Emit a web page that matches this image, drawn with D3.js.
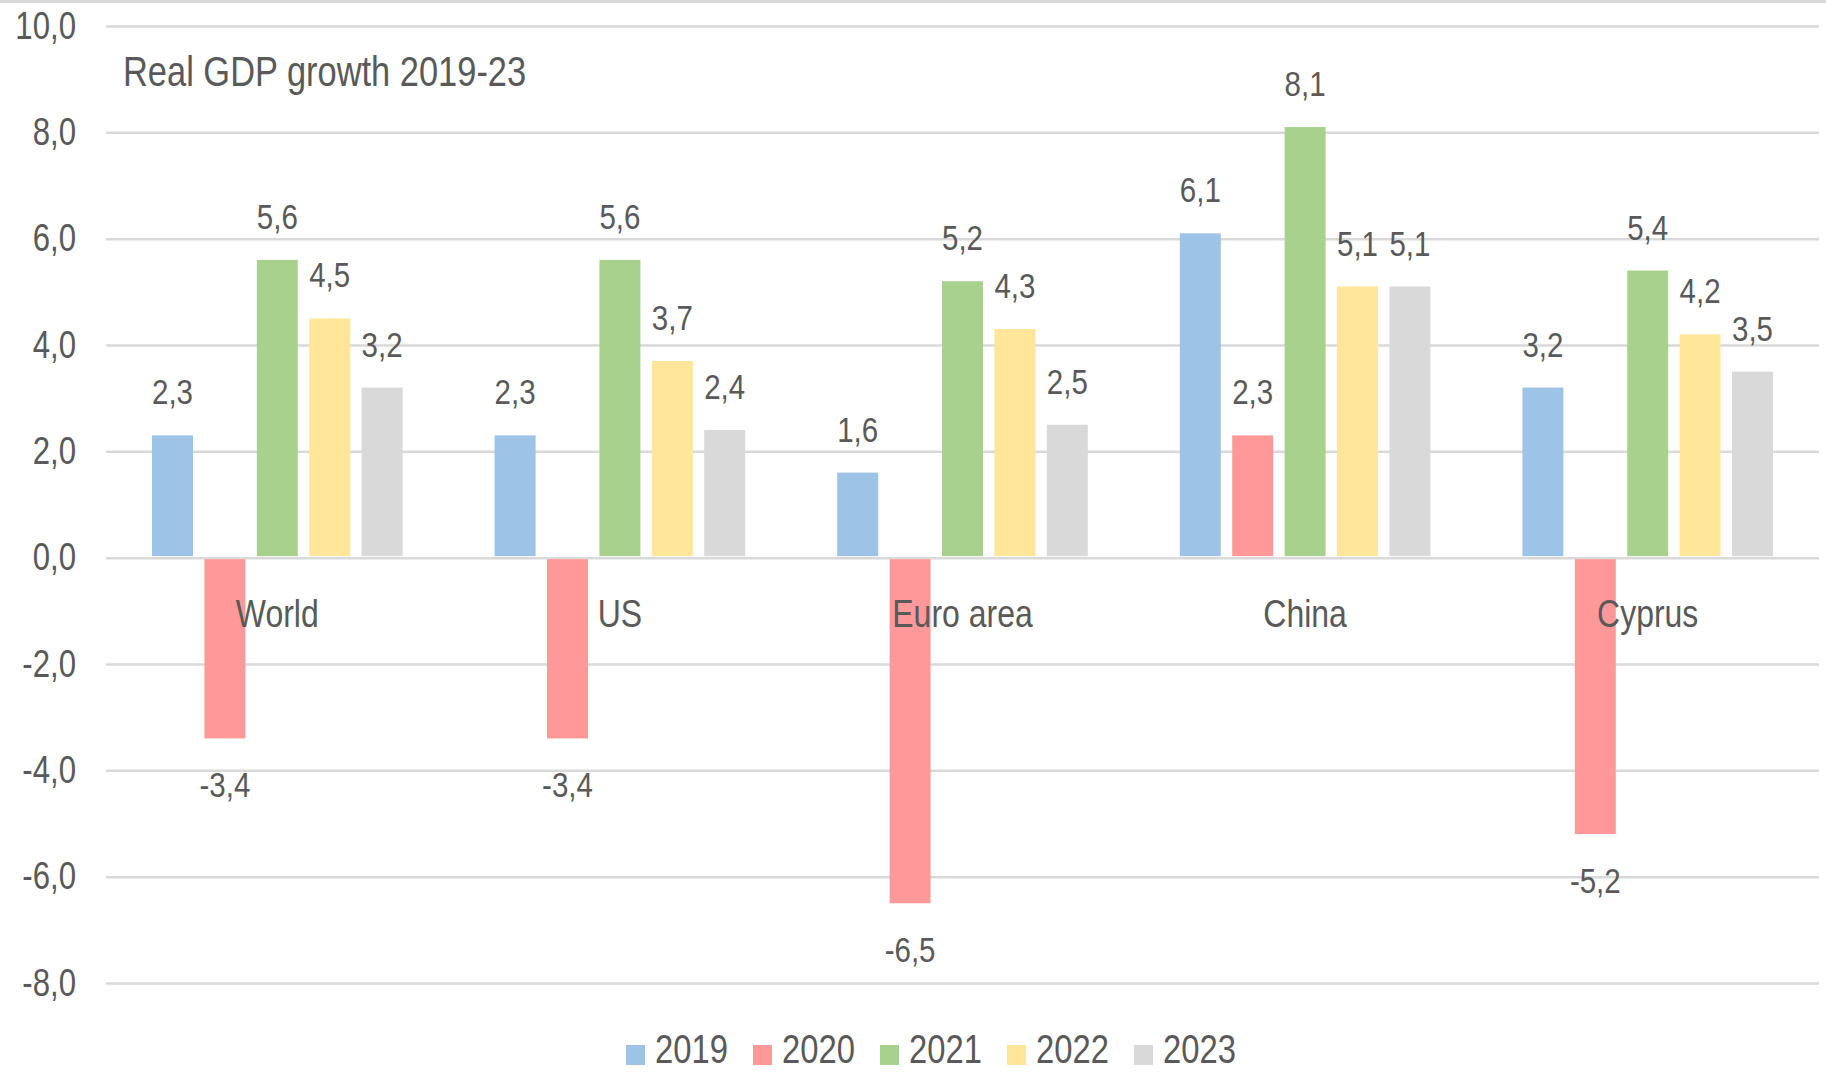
<!DOCTYPE html>
<html>
<head>
<meta charset="utf-8">
<script src="https://cdn.jsdelivr.net/npm/d3@7"></script>
<style>
  html, body { margin: 0; padding: 0; background: #ffffff; }
  svg { display: block; }
  text { font-family: "Liberation Sans", Arial, sans-serif; fill: #595959; }
</style>
</head>
<body>
<svg id="chart" width="1826" height="1072"></svg>
<script>
// ---- Data ----
const categories = ["World", "US", "Euro area", "China", "Cyprus"];
const years = ["2019", "2020", "2021", "2022", "2023"];
const values2019 = [2.3, 2.3, 1.6, 6.1, 3.2];
const values2020 = [-3.4, -3.4, -6.5, 2.3, -5.2];
const values2021 = [5.6, 5.6, 5.2, 8.1, 5.4];
const values2022 = [4.5, 3.7, 4.3, 5.1, 4.2];
const values2023 = [3.2, 2.4, 2.5, 5.1, 3.5];
const yTickValues = [10, 8, 6, 4, 2, 0, -2, -4, -6, -8];
const titleText = "Real GDP growth 2019-23";

const seriesValues = [values2019, values2020, values2021, values2022, values2023];
const colors = ["#9dc3e6", "#ff9999", "#a9d18e", "#ffe699", "#d9d9d9"];

const svg = d3.select("#chart");
const W = 1826, H = 1072;
const plotLeft = 106, plotRight = 1819, plotTop = 26, plotBottom = 983;
const NARROW = 0.82;

// condense text horizontally (Calibri-like narrow look)
function narrow(sel) {
  sel.each(function () {
    const t = d3.select(this);
    const x = +t.attr("x") || 0, yy = +t.attr("y") || 0;
    t.attr("x", 0).attr("y", 0).attr("transform", `translate(${x},${yy}) scale(${NARROW},1)`);
  });
}

const locale = d3.formatLocale({ decimal: ",", thousands: ".", grouping: [3], currency: ["", ""], minus: "-" });
const fmt = locale.format(".1f");

const x0 = d3.scaleBand().domain(categories).range([plotLeft, plotRight]);
const x1 = d3.scaleBand().domain(years).range([0, x0.bandwidth()]).paddingInner(0.218).paddingOuter(0.878);
const y = d3.scaleLinear().domain([-8, 10]).range([plotBottom, plotTop]);

// top border
svg.append("rect").attr("x", 0).attr("y", 0).attr("width", W).attr("height", 3).attr("fill", "#d9d9d9");

// gridlines + y labels
const yAxis = d3.axisLeft(y).tickValues(yTickValues).tickFormat(d => fmt(d))
  .tickSize(-(plotRight - plotLeft)).tickPadding(30);
const gy = svg.append("g").attr("transform", `translate(${plotLeft},0)`).call(yAxis);
gy.select(".domain").remove();
gy.selectAll(".tick line").attr("stroke", "#d9d9d9").attr("stroke-width", 2.5);
gy.selectAll(".tick text").attr("font-size", 38).attr("fill", "#595959")
  .style("font-family", '"Liberation Sans", Arial, sans-serif')
  .call(narrow);

// title
svg.append("text").attr("x", 123).attr("y", 86).attr("font-size", 42).text(titleText).call(narrow);

// bars
const rows = [];
categories.forEach((c, ci) => {
  years.forEach((yr, si) => rows.push({ cat: c, year: yr, si, v: seriesValues[si][ci] }));
});

const g = svg.append("g");
g.selectAll("rect.bar").data(rows).join("rect").attr("class", "bar")
  .attr("x", d => x0(d.cat) + x1(d.year))
  .attr("width", x1.bandwidth())
  .attr("y", d => d.v >= 0 ? y(d.v) : y(0) + 1.5)
  .attr("height", d => d.v >= 0 ? y(0) - 1.5 - y(d.v) : y(d.v) - y(0) - 1.5)
  .attr("fill", d => colors[d.si]);

// data labels
g.selectAll("text.val").data(rows).join("text").attr("class", "val")
  .attr("x", d => x0(d.cat) + x1(d.year) + x1.bandwidth() / 2)
  .attr("y", d => d.v >= 0 ? y(d.v) - 31 : y(d.v) + 59)
  .attr("text-anchor", "middle").attr("font-size", 36)
  .text(d => fmt(d.v))
  .call(narrow);

// category labels
svg.append("g").selectAll("text").data(categories).join("text")
  .attr("x", d => x0(d) + x0.bandwidth() / 2)
  .attr("y", y(0) + 69)
  .attr("text-anchor", "middle").attr("font-size", 39)
  .text(d => d)
  .call(narrow);

// legend
const lg = svg.append("g").attr("transform", "translate(626,0)");
const items = lg.selectAll("g").data(years).join("g")
  .attr("transform", (d, i) => `translate(${i * 127},0)`);
items.append("rect").attr("x", 0).attr("y", 1045).attr("width", 19).attr("height", 20)
  .attr("fill", (d, i) => colors[i]);
items.append("text").attr("x", 29).attr("y", 1063).attr("font-size", 40).text(d => d).call(narrow);
</script>
</body>
</html>
